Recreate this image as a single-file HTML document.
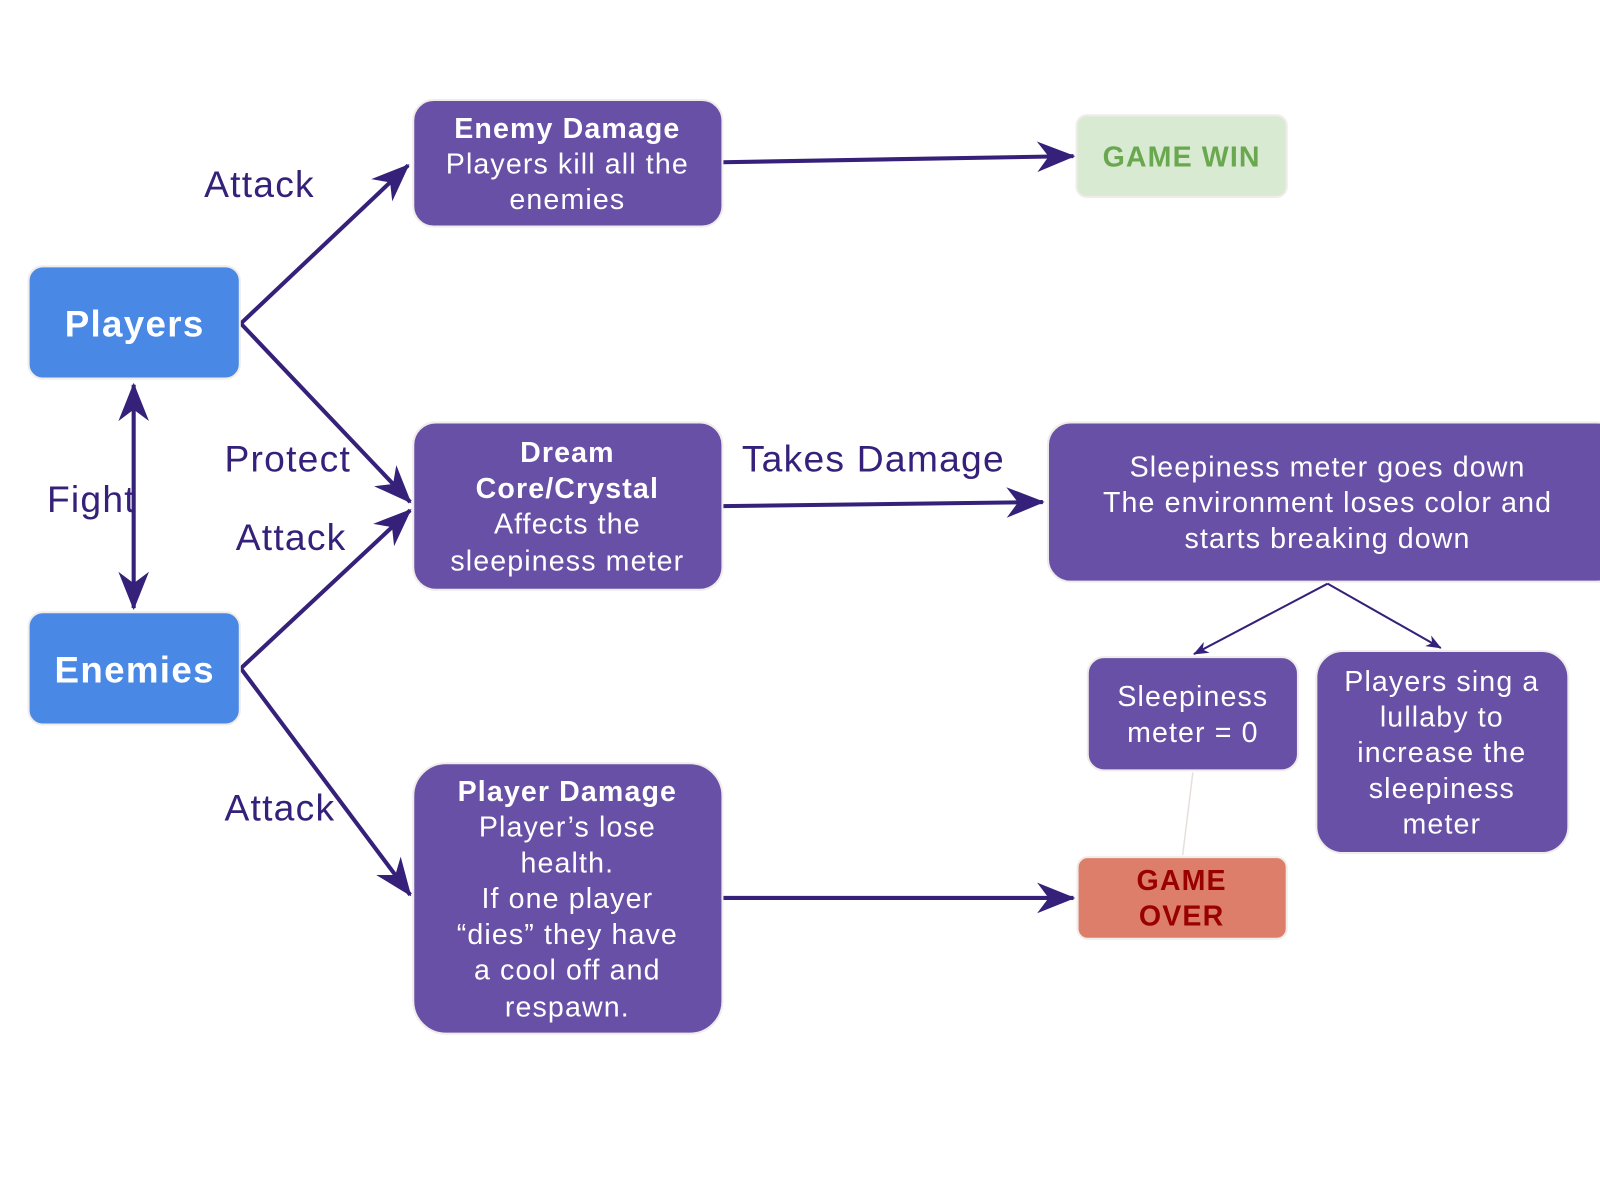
<!DOCTYPE html>
<html><head><meta charset="utf-8"><style>
html,body{margin:0;padding:0;background:#fff;}
svg{display:block;font-family:"Liberation Sans",sans-serif;}
</style></head><body>
<svg width="1600" height="1200" viewBox="0 0 1568 1176" xmlns="http://www.w3.org/2000/svg">
<defs>
<marker id="ah" viewBox="0 0 20 16" refX="19" refY="8" markerWidth="38" markerHeight="30" orient="auto-start-reverse" markerUnits="userSpaceOnUse"><path d="M0,0 L20,8 L0,16 L6,8 Z" fill="#35207a"/></marker>
<marker id="as" viewBox="0 0 20 16" refX="19" refY="8" markerWidth="16" markerHeight="12" orient="auto" markerUnits="userSpaceOnUse"><path d="M0,0 L20,8 L0,16 L6,8 Z" fill="#35207a"/></marker>
</defs>
<g stroke="#35207a" stroke-width="4" fill="none">
<line x1="236" y1="317" x2="400" y2="162" marker-end="url(#ah)"/>
<line x1="236" y1="317" x2="402" y2="492" marker-end="url(#ah)"/>
<line x1="236" y1="655" x2="402" y2="500" marker-end="url(#ah)"/>
<line x1="236" y1="655" x2="402" y2="877" marker-end="url(#ah)"/>
<line x1="131" y1="377" x2="131" y2="596" marker-start="url(#ah)" marker-end="url(#ah)"/>
<line x1="708" y1="159" x2="1052" y2="153" marker-end="url(#ah)"/>
<line x1="708" y1="496" x2="1022" y2="492" marker-end="url(#ah)"/>
<line x1="708" y1="880" x2="1052" y2="880" marker-end="url(#ah)"/>
</g>
<g stroke="#35207a" stroke-width="2" fill="none">
<line x1="1301" y1="572" x2="1170" y2="641" marker-end="url(#as)"/>
<line x1="1301" y1="572" x2="1412" y2="635" marker-end="url(#as)"/>
</g>
<line x1="1169" y1="757" x2="1159" y2="838" stroke="#e6e0dc" stroke-width="1.5"/>

<g stroke="#f0ecea" stroke-width="2">
<rect x="28" y="261" width="207" height="110" rx="14" fill="#4a88e6"/>
<rect x="28" y="600" width="207" height="110" rx="14" fill="#4a88e6"/>
<rect x="405" y="98" width="303" height="124" rx="20" fill="#6750a6"/>
<rect x="1055" y="113" width="206" height="80" rx="10" fill="#d9ead3"/>
<rect x="405" y="414" width="303" height="164" rx="22" fill="#6750a6"/>
<rect x="1027" y="414" width="560" height="156" rx="22" fill="#6750a6"/>
<rect x="1066" y="644" width="206" height="111" rx="16" fill="#6750a6"/>
<rect x="1290" y="638" width="247" height="198" rx="26" fill="#6750a6"/>
<rect x="1056" y="840" width="205" height="80" rx="10" fill="#dd7e6b"/>
<rect x="405" y="748" width="303" height="265" rx="32" fill="#6750a6"/>
</g>

<g fill="#fff" text-anchor="middle" font-size="28" letter-spacing="1.1">
<text x="132" y="330" font-size="36" font-weight="bold" letter-spacing="1.3">Players</text>
<text x="132" y="669" font-size="36" font-weight="bold" letter-spacing="1.3">Enemies</text>
<text x="556" y="135" font-weight="bold">Enemy Damage</text>
<text x="556" y="170">Players kill all the</text>
<text x="556" y="205">enemies</text>
<text x="556" y="453" font-weight="bold">Dream</text>
<text x="556" y="488" font-weight="bold">Core/Crystal</text>
<text x="556" y="523">Affects the</text>
<text x="556" y="559">sleepiness meter</text>
<text x="1301" y="467">Sleepiness meter goes down</text>
<text x="1301" y="502">The environment loses color and</text>
<text x="1301" y="537">starts breaking down</text>
<text x="1169" y="692">Sleepiness</text>
<text x="1169" y="727">meter = 0</text>
<text x="1413" y="677">Players sing a</text>
<text x="1413" y="712">lullaby to</text>
<text x="1413" y="747">increase the</text>
<text x="1413" y="782">sleepiness</text>
<text x="1413" y="817">meter</text>
<text x="556" y="785" font-weight="bold">Player Damage</text>
<text x="556" y="820">Player’s lose</text>
<text x="556" y="855">health.</text>
<text x="556" y="890">If one player</text>
<text x="556" y="925">“dies” they have</text>
<text x="556" y="960">a cool off and</text>
<text x="556" y="996">respawn.</text>
<text x="1158" y="163" fill="#6aa84f" font-weight="bold">GAME WIN</text>
<text x="1158" y="872" fill="#990000" font-weight="bold">GAME</text>
<text x="1158" y="907" fill="#990000" font-weight="bold">OVER</text>
</g>
<g fill="#35207a" font-size="36.5" letter-spacing="1.2">
<text x="200" y="193">Attack</text>
<text x="220" y="462">Protect</text>
<text x="46" y="502">Fight</text>
<text x="231" y="539">Attack</text>
<text x="220" y="804">Attack</text>
<text x="727" y="462">Takes Damage</text>
</g>
</svg>
</body></html>
